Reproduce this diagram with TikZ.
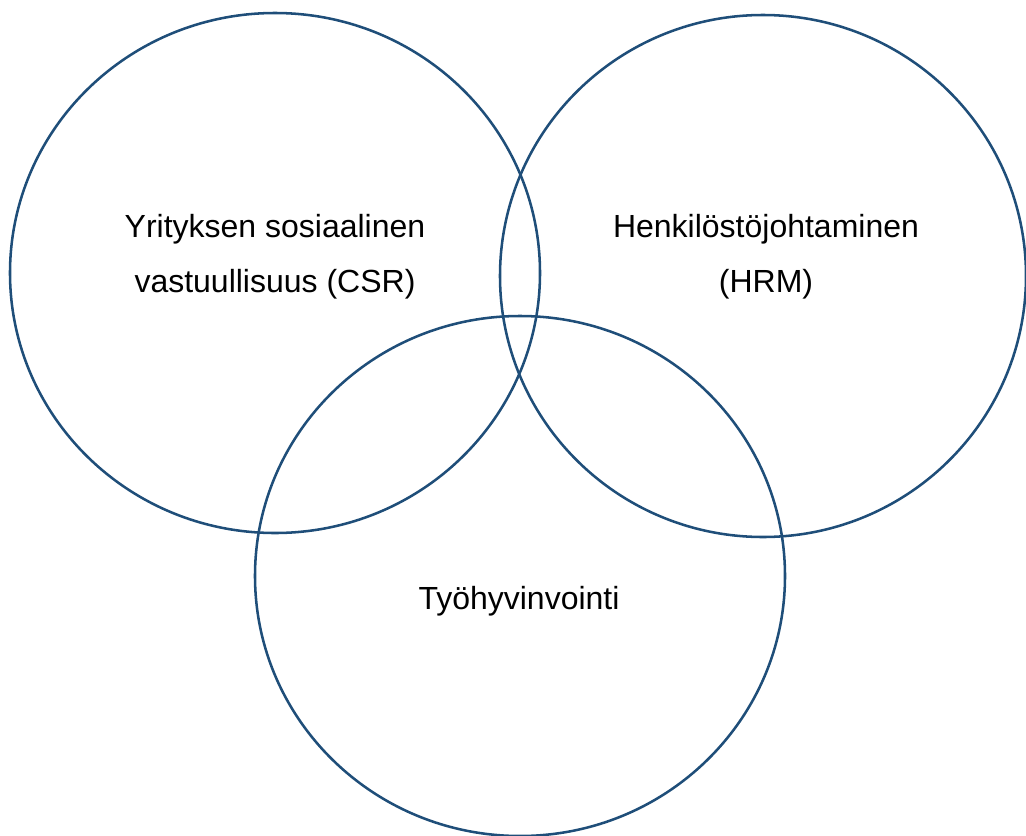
\documentclass[tikz,border=0pt]{standalone}
\usepackage{fontspec}
\setmainfont{Liberation Sans}
\definecolor{vennblue}{HTML}{1F4E79}

\begin{document}
\begin{tikzpicture}[x=0.75pt,y=-0.75pt,
        venn/.style={draw=vennblue, line width=1.9pt},
        vennlabel/.style={align=center, inner sep=0pt, anchor=base,
            font=\fontsize{24pt}{41.25pt}\selectfont}]

    \useasboundingbox (0,0) rectangle (1026,836);

    % three overlapping circles
    \draw[venn] (275,273) ellipse [x radius=265, y radius=260];
    \draw[venn] (763,276) ellipse [x radius=263, y radius=261];
    \draw[venn] (520,576) ellipse [x radius=265, y radius=260];

    % labels (base = baseline of the last line)
    \node[vennlabel] (csr) at (275,292) {Yrityksen sosiaalinen\\vastuullisuus (CSR)};
    \node[vennlabel] (hrm) at (766,292) {Henkilöstöjohtaminen\\(HRM)};
    \node[vennlabel] (tyo) at (519,609) {Työhyvinvointi};

\end{tikzpicture}
\end{document}
